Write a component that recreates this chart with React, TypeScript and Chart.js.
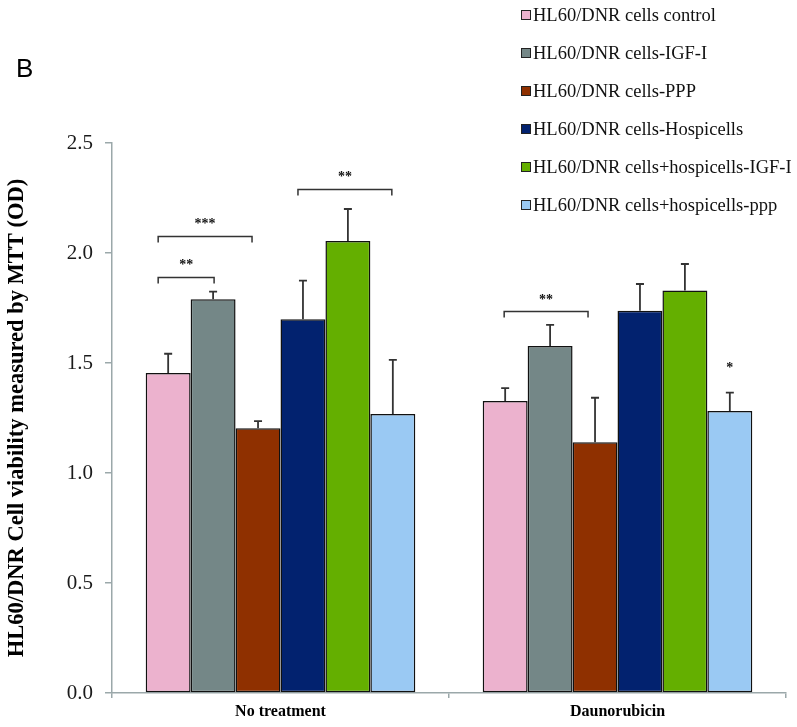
import React, { useEffect, useRef } from 'react';
import { Chart, registerables } from 'chart.js';

Chart.register(...registerables);

const categories = ['No treatment', 'Daunorubicin'];
const seriesNames = [
  'HL60/DNR cells control',
  'HL60/DNR cells-IGF-I',
  'HL60/DNR cells-PPP',
  'HL60/DNR cells-Hospicells',
  'HL60/DNR cells+hospicells-IGF-I',
  'HL60/DNR cells+hospicells-ppp',
];
const controlValues = [1.455, 1.327];
const igfValues = [1.79, 1.577];
const pppValues = [1.203, 1.14];
const hospValues = [1.699, 1.737];
const hospIgfValues = [2.054, 1.83];
const hospPppValues = [1.268, 1.282];

const controlErr = [0.087, 0.059];
const igfErr = [0.034, 0.096];
const pppErr = [0.033, 0.202];
const hospErr = [0.175, 0.122];
const hospIgfErr = [0.146, 0.12];
const hospPppErr = [0.246, 0.083];

const yTicks = [0, 0.5, 1.0, 1.5, 2.0, 2.5];
const yTitle = 'HL60/DNR Cell viability measured by MTT (OD)';
const panelLabel = 'B';

// significance brackets: category, from series, to series, bracket level, label level, label
const brackets = [
  { cat: 0, from: 0, to: 1, level: 1.89, textLevel: 1.96, label: '**' },
  { cat: 0, from: 0, to: 2, level: 2.075, textLevel: 2.146, label: '***' },
  { cat: 0, from: 3, to: 5, level: 2.29, textLevel: 2.36, label: '**' },
  { cat: 1, from: 0, to: 2, level: 1.738, textLevel: 1.8, label: '**' },
];
const starMarks = [{ cat: 1, series: 5, textLevel: 1.49, label: '*' }];

const seriesValues = [controlValues, igfValues, pppValues, hospValues, hospIgfValues, hospPppValues];
const seriesErrors = [controlErr, igfErr, pppErr, hospErr, hospIgfErr, hospPppErr];
const colors = ['#ECB2CE', '#748787', '#8F3000', '#02226F', '#64AF00', '#9AC9F3'];

const AXIS = '#9BA8AA';
const SERIF = '"Liberation Serif", "Times New Roman", serif';

const bracketNudge: [number, number][] = [
  [-10, 1],
  [-10, -6],
  [-5, -1],
  [-1, -7],
];

const overlayPlugin = {
  id: 'overlay',
  afterDatasetsDraw(chart: any) {
    const ctx = chart.ctx;
    const ys = chart.scales.y;
    ctx.save();
    // error bars
    ctx.strokeStyle = '#333';
    ctx.lineWidth = 1.8;
    chart.data.datasets.forEach((ds: any, di: number) => {
      const meta = chart.getDatasetMeta(di);
      meta.data.forEach((bar: any, ci: number) => {
        const v = ds.data[ci];
        const e = seriesErrors[di][ci];
        const x = bar.x;
        const y0 = ys.getPixelForValue(v);
        const y1 = ys.getPixelForValue(v + e);
        ctx.beginPath();
        ctx.moveTo(x, y0);
        ctx.lineTo(x, y1);
        ctx.moveTo(x - 4, y1);
        ctx.lineTo(x + 4, y1);
        ctx.stroke();
      });
    });
    // brackets
    ctx.lineWidth = 1.5;
    ctx.fillStyle = '#111';
    ctx.font = 'bold 14px ' + SERIF;
    ctx.textAlign = 'center';
    ctx.textBaseline = 'alphabetic';
    brackets.forEach((b, i) => {
      const x1 = chart.getDatasetMeta(b.from).data[b.cat].x + bracketNudge[i][0];
      const x2 = chart.getDatasetMeta(b.to).data[b.cat].x + bracketNudge[i][1];
      const y = Math.round(ys.getPixelForValue(b.level)) + 0.5;
      ctx.beginPath();
      ctx.moveTo(x1, y + 6);
      ctx.lineTo(x1, y);
      ctx.lineTo(x2, y);
      ctx.lineTo(x2, y + 6);
      ctx.stroke();
      const ty = ys.getPixelForValue(b.textLevel);
      ctx.fillText(b.label, (x1 + x2) / 2, ty + 7);
    });
    starMarks.forEach((s) => {
      const x = chart.getDatasetMeta(s.series).data[s.cat].x;
      const ty = ys.getPixelForValue(s.textLevel);
      ctx.fillText(s.label, x, ty + 7);
    });
    ctx.restore();
  },
  afterDraw(chart: any) {
    const ctx = chart.ctx;
    ctx.save();
    // legend
    ctx.font = '18.5px ' + SERIF;
    ctx.textAlign = 'left';
    ctx.textBaseline = 'middle';
    seriesNames.forEach((name, i) => {
      const cy = 15 + i * 38;
      ctx.fillStyle = colors[i];
      ctx.fillRect(521, cy - 4.5, 9, 9);
      ctx.strokeStyle = '#222';
      ctx.lineWidth = 1;
      ctx.strokeRect(521.5, cy - 4.5, 9, 9);
      ctx.fillStyle = '#111';
      ctx.fillText(name, 533, cy + 1);
    });
    // panel label
    ctx.font = '26px "Liberation Sans", Arial, sans-serif';
    ctx.textBaseline = 'alphabetic';
    ctx.fillStyle = '#000';
    ctx.fillText(panelLabel, 16, 77);
    ctx.restore();
  },
};

export default function App() {
  const ref = useRef<HTMLCanvasElement | null>(null);
  useEffect(() => {
    if (!ref.current) return;
    const chart = new Chart(ref.current, {
      type: 'bar',
      data: {
        labels: categories,
        datasets: seriesNames.map((name, i) => ({
          label: name,
          data: seriesValues[i],
          backgroundColor: colors[i],
          borderColor: '#111',
          borderWidth: 1.5,
          borderSkipped: false,
          categoryPercentage: 0.8,
          barPercentage: 1.0,
        })),
      },
      options: {
        responsive: false,
        animation: false,
        devicePixelRatio: 1,
        layout: { padding: { left: 0, top: 143, right: 11, bottom: 0 } },
        plugins: {
          legend: { display: false },
          tooltip: { enabled: false },
          title: { display: false },
        },
        scales: {
          x: {
            grid: { drawOnChartArea: false, color: AXIS, tickLength: 5, lineWidth: 1.5, offset: true },
            border: { color: AXIS, width: 1.5 },
            ticks: { font: { family: SERIF, size: 16, weight: 'bold' }, color: '#000', padding: 4 },
            afterFit: (s: any) => {
              s.height = 34;
            },
          },
          y: {
            min: 0,
            max: 2.5,
            afterBuildTicks: (s: any) => {
              s.ticks = yTicks.map((v) => ({ value: v }));
            },
            grid: { drawOnChartArea: false, color: AXIS, tickLength: 7, lineWidth: 1.5 },
            border: { color: AXIS, width: 1.5 },
            ticks: {
              font: { family: SERIF, size: 21 },
              color: '#1a1a1a',
              padding: 12,
              callback: (v: any) => Number(v).toFixed(1),
            },
            title: {
              display: true,
              text: yTitle,
              font: { family: SERIF, size: 22.5, weight: 'bold' },
              color: '#000',
              padding: { top: 4, bottom: 4 },
            },
            afterFit: (s: any) => {
              s.width = 112;
            },
          },
        },
      },
      plugins: [overlayPlugin],
    });
    return () => chart.destroy();
  }, []);
  return (
    <div style={{ position: 'absolute', left: 0, top: 0, width: 797, height: 727, background: '#fff' }}>
      <canvas ref={ref} width={797} height={727} />
    </div>
  );
}
